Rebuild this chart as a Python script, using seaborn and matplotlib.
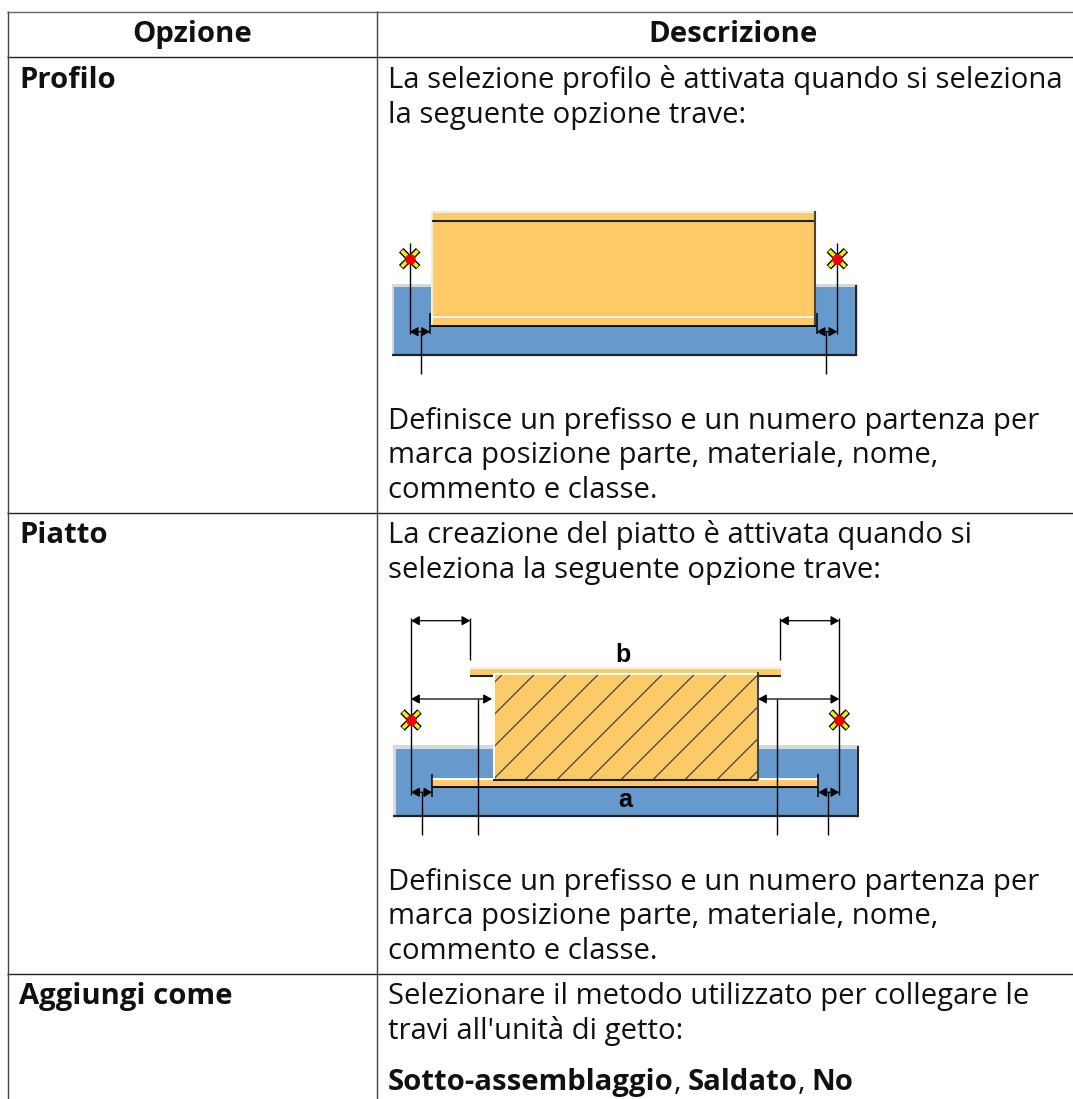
import numpy as np
import matplotlib
matplotlib.use('Agg')
import matplotlib.pyplot as plt
from matplotlib.patches import Rectangle
from matplotlib.lines import Line2D
import seaborn as sns

# Table content
col_headers = ['Opzione', 'Descrizione']
row_options = ['Profilo', 'Piatto', 'Aggiungi come']
profilo_intro = ['La selezione profilo è attivata quando si seleziona', 'la seguente opzione trave:']
piatto_intro = ['La creazione del piatto è attivata quando si', 'seleziona la seguente opzione trave:']
shared_note = ['Definisce un prefisso e un numero partenza per',
               'marca posizione parte, materiale, nome,',
               'commento e classe.']
aggiungi_intro = ["Selezionare il metodo utilizzato per collegare le",
                  "travi all'unità di getto:"]
aggiungi_values = ['Sotto-assemblaggio', 'Saldato', 'No']

ORANGE = '#fdca68'
BLUE = '#6699cc'
DARK = '#222222'
TXT = '#111111'
FS = 21.1

sns.set_theme(style='white')
plt.rcParams['font.family'] = ['Open Sans', 'DejaVu Sans']

fig = plt.figure(figsize=(10.73, 10.99), dpi=100)
ax = fig.add_axes([0, 0, 1, 1])
ax.set_xlim(0, 1073)
ax.set_ylim(1099, 0)
ax.axis('off')


def seg(x0, y0, x1, y1, color=DARK, lw=1.0, z=3):
    ax.add_line(Line2D([x0, x1], [y0, y1], color=color, lw=lw, zorder=z, solid_capstyle='butt'))


def box(x0, y0, x1, y1, color, z=2):
    ax.add_patch(Rectangle((x0, y0), x1 - x0, y1 - y0, fc=color, ec='none', zorder=z))


def dim(x0, x1, y):
    ax.annotate('', xy=(x1, y), xytext=(x0, y), zorder=5,
                arrowprops=dict(arrowstyle='<|-|>,head_length=0.5,head_width=0.28', color='black',
                                lw=0.9, shrinkA=0, shrinkB=0, mutation_scale=10))


def marker(x, y):
    for dx in (-1, 1):
        seg(x - 8.5 * dx, y - 8.5, x + 8.5 * dx, y + 8.5, color='black', lw=4.6, z=6)
        seg(x - 8 * dx, y - 8, x + 8 * dx, y + 8, color='#f5f000', lw=2.6, z=7)
    ax.plot([x], [y], 'o', color='#ee0000', ms=7.5, mew=0, zorder=8)


def write(x, y, s, **kw):
    ax.text(x, y, s, fontsize=FS, color=TXT, va='baseline', **kw)


# Grid
seg(7, 11.7, 1073, 11.7, color='#666666', lw=1.0)
for y in [57.3, 513.3, 974]:
    seg(7, y, 1073, y, color='#222222', lw=1.0)
seg(7.5, 11, 7.5, 1099, color='#444444', lw=1.0)
seg(377, 11, 377, 1099, color='#444444', lw=1.0)

for x, s in zip([192, 733], col_headers):
    write(x, 42, s, ha='center', fontweight='bold')
for y, s in zip([87.7, 543.3, 1004.3], row_options):
    write(19, y, s, fontweight='bold')

for y, s in zip([87.7, 122.7], profilo_intro):
    write(388, y, s)
for y, s in zip([428.5, 463.3, 497.8], shared_note):
    write(388, y, s)
for y, s in zip([543.3, 578.3], piatto_intro):
    write(388, y, s)
for y, s in zip([890, 924, 958.7], shared_note):
    write(388, y, s)
for y, s in zip([1004.3, 1039], aggiungi_intro):
    write(388, y, s)

# Diagram 1
box(392, 284, 858, 356, '#d8d8d8')
box(394, 287, 855, 354, BLUE)
seg(392, 355, 857, 355, lw=1.6)
seg(856, 285, 856, 356, lw=1.4)
box(431, 211, 815, 326, '#eeeeee', z=3)
box(433, 213, 814, 325, ORANGE, z=3)
seg(432, 221, 815, 221, lw=1.5, z=4)
seg(433, 315.5, 814, 315.5, color='#aaaaaa', lw=1, z=4)
seg(433, 317, 814, 317, color='white', lw=1.2, z=4)
seg(815, 211, 815, 326, color='#444444', lw=1.5, z=4)
seg(430, 326, 816, 326, color='black', lw=1.3, z=4)
seg(430, 313, 430, 334, color='black', lw=1.1, z=4)
seg(816.5, 313, 816.5, 334, color='black', lw=1.1, z=4)
for x in (409.7, 837.3):
    seg(x, 243, x, 334, color='black', lw=1.0, z=5)
    marker(x, 258.7)
dim(409.7, 430, 331.7)
dim(816.7, 837.3, 331.7)
seg(420.7, 332, 420.7, 374, color='black', lw=1.0)
seg(826, 332, 826, 374, color='black', lw=1.0)

# Diagram 2
box(393, 745, 859, 817, '#d8d8d8')
box(396, 748.5, 857, 815, BLUE)
seg(393, 815.5, 859, 815.5, lw=1.6)
seg(858, 746, 858, 816, lw=1.4)
box(470, 666, 781, 675.5, '#f4f4f4', z=3)
box(470, 669, 781, 675.5, ORANGE, z=3)
seg(470, 675.5, 781, 675.5, lw=1.5, z=3)
box(432, 777.5, 818, 787, 'white', z=3)
box(433, 780, 818, 787, ORANGE, z=3)
seg(432, 787, 818, 787, color='black', lw=1.3, z=4)
box(492.5, 672.5, 758, 780, 'white', z=4)
body = Rectangle((495, 675), 262, 104.5, fc=ORANGE, ec='none', zorder=4)
ax.add_patch(body)
for c in 1176.7 + 32 * np.arange(12):
    hatch = Line2D([c - 800, c - 650], [800, 650], color='#333333', lw=0.8, zorder=5)
    ax.add_line(hatch)
    hatch.set_clip_path(body)
seg(493, 780, 758, 780, lw=1.5, z=6)
seg(757.5, 672, 757.5, 780, color='#444444', lw=1.5, z=6)
seg(432.3, 774, 432.3, 797, color='black', lw=1.1, z=5)
seg(818.3, 774, 818.3, 797, color='black', lw=1.1, z=5)
for x in (411, 839.3):
    seg(x, 617.7, x, 795, color='black', lw=1.0, z=5)
    marker(x, 720)
seg(470.3, 617.7, 470.3, 660, color='black', lw=1.0)
seg(780, 617.7, 780, 660, color='black', lw=1.0)
dim(411, 470.3, 620.7)
dim(780, 839.3, 620.7)
dim(411, 492, 699)
dim(758, 839.3, 699)
dim(411, 432.3, 792.3)
dim(818.3, 839.3, 792.3)
for x, y0 in [(478.3, 699), (776.7, 699), (422.3, 792), (828, 792)]:
    seg(x, y0, x, 835, color='black', lw=1.0, z=5)
ax.text(623.3, 661.7, 'b', fontsize=18, fontweight='bold', family='Liberation Sans', color='black', ha='center', va='baseline')
ax.text(625, 806.7, 'a', fontsize=18, fontweight='bold', family='Liberation Sans', color='black', ha='center', va='baseline', zorder=7)

# Last line mixes bold and regular runs
x = 388
renderer = fig.canvas.get_renderer()
pieces = [(aggiungi_values[0], True), (',', False), (aggiungi_values[1], True), (',', False), (aggiungi_values[2], True)]
for s, is_bold in pieces:
    t = ax.text(x, 1090, s, fontsize=FS, color=TXT, va='baseline', fontweight='bold' if is_bold else 'normal')
    x += t.get_window_extent(renderer).width + (6 if s == ',' else 0)

fig.savefig('out.png', dpi=100)
